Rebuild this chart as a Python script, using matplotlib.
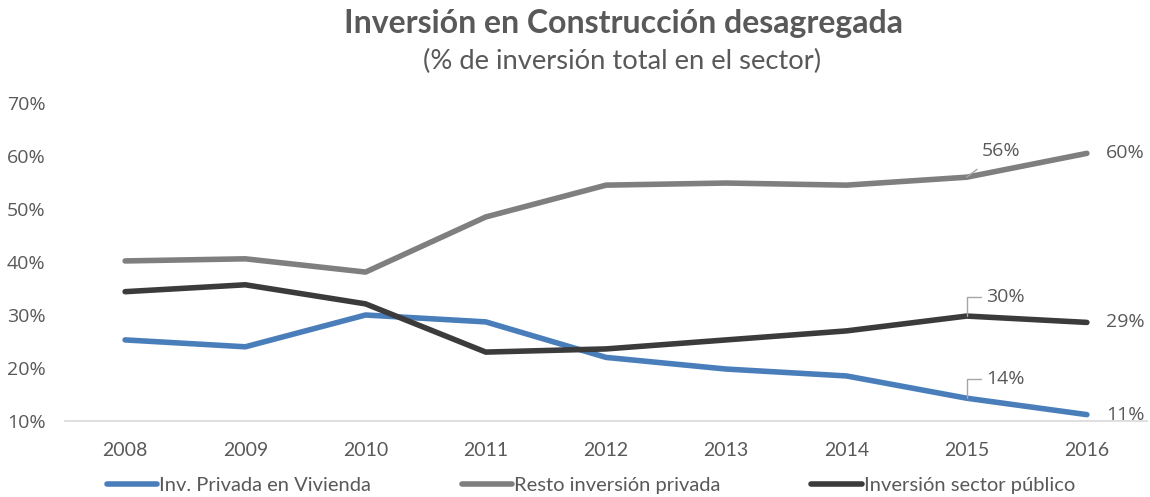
import matplotlib
matplotlib.use("Agg")
import matplotlib.pyplot as plt
from matplotlib.ticker import FuncFormatter

years = ["2008", "2009", "2010", "2011", "2012", "2013", "2014", "2015", "2016"]
vivienda = [25.3, 24.0, 30.0, 28.7, 22.0, 19.8, 18.5, 14.3, 11.2]
resto = [40.2, 40.6, 38.1, 48.5, 54.5, 54.9, 54.5, 56.0, 60.5]
publico = [34.4, 35.7, 32.1, 23.0, 23.6, 25.3, 27.0, 29.8, 28.6]

series_names = ["Inv. Privada en Vivienda", "Resto inversión privada", "Inversión sector público"]
colors = ["#4a7ebb", "#7f7f7f", "#3b3b3b"]
text_color = "#595959"

fig = plt.figure(figsize=(11.5, 4.97), dpi=100)
ax = fig.add_axes([65/1150, 1 - 421/497, (1147-65)/1150, (421-103)/497])

x = list(range(len(years)))
data = [vivienda, resto, publico]
lines = []
for vals, c, name in zip(data, colors, series_names):
    ln, = ax.plot(x, vals, color=c, lw=4, solid_capstyle="round", solid_joinstyle="round", label=name)
    lines.append(ln)

ax.set_xlim(-0.5, len(years) - 0.5)
ax.set_ylim(10, 70)
ax.set_yticks(range(10, 71, 10))
ax.yaxis.set_major_formatter(FuncFormatter(lambda v, p: f"{v:.0f}%"))
ax.set_xticks(x)
ax.set_xticklabels(years)
for s in ["top", "right", "left"]:
    ax.spines[s].set_visible(False)
ax.spines["bottom"].set_color("#d9d9d9")
ax.spines["bottom"].set_linewidth(1.2)
ax.tick_params(axis="both", length=0, colors=text_color)
ax.tick_params(axis="y", pad=14, labelsize=14)
ax.tick_params(axis="x", pad=15, labelsize=14)
for lab in ax.get_yticklabels():
    lab.set_family("Open Sans")
for lab in ax.get_xticklabels():
    lab.set_family("Lato")

# end labels
last = len(years) - 1
for vals in data:
    ax.annotate(f"{vals[last]:.0f}%", xy=(last, vals[last]), xytext=(14, 0),
                textcoords="offset points", ha="left", va="center",
                fontsize=14, color=text_color, family="Open Sans")

# 2015 labels with leader lines
i15 = 7
ax.annotate(f"{resto[i15]:.0f}%", xy=(i15, resto[i15]), xytext=(25, 19),
            textcoords="offset points", ha="center", va="center",
            fontsize=14, color=text_color, family="Open Sans",
            arrowprops=dict(arrowstyle="-", color="#a6a6a6", lw=1, shrinkA=8, shrinkB=0))
for vals in [publico, vivienda]:
    ax.annotate(f"{vals[i15]:.0f}%", xy=(i15, vals[i15]), xytext=(14, 14),
                textcoords="offset points", ha="left", va="center",
                fontsize=14, color=text_color, family="Open Sans",
                arrowprops=dict(arrowstyle="-", color="#a6a6a6", lw=1, shrinkA=2, shrinkB=0,
                                connectionstyle="angle,angleA=0,angleB=90,rad=0"))

fig.text(623/1150, 1 - 23/497, "Inversión en Construcción desagregada", ha="center", va="center",
         fontsize=23, fontweight="bold", color=text_color, family="Lato")
fig.text(622/1150, 1 - 61/497, "(% de inversión total en el sector)", ha="center", va="center",
         fontsize=19.7, color=text_color, family="Lato")

fig.legend(handles=lines, loc="center left", bbox_to_anchor=(107/1150, 1 - 485/497), ncol=3,
           frameon=False, labelcolor=text_color, handlelength=2.5, borderpad=0, borderaxespad=0,
           handletextpad=0.1, columnspacing=4.5, prop={"family": "Lato", "size": 14.5})

fig.savefig("out.png", dpi=100)
